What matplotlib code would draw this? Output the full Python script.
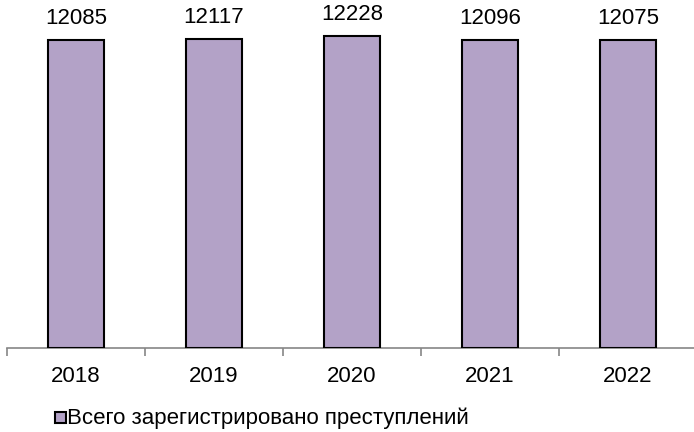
import matplotlib
matplotlib.use("Agg")
import matplotlib.pyplot as plt
from matplotlib.patches import Rectangle

years = ["2018", "2019", "2020", "2021", "2022"]
values = [12085, 12117, 12228, 12096, 12075]
series_name = "Всего зарегистрировано преступлений"

plt.rcParams['font.family'] = ['Liberation Sans', 'DejaVu Sans']

W, H = 694, 432
fig = plt.figure(figsize=(W / 100, H / 100), dpi=100)
# axes: x from 7 to 697 px, y baseline at 348 px from top, top at 0
left_px, right_px = 7, 697
bottom_px = 348
ax = fig.add_axes([left_px / W, (H - bottom_px) / H, (right_px - left_px) / W, bottom_px / H])

x = list(range(len(years)))
color = "#B3A2C7"
bars = ax.bar(x, values, width=0.4, color=color, edgecolor="black", linewidth=1.5, zorder=3)
ax.set_xlim(-0.5, len(years) - 0.5)
ax.set_ylim(0, 13650)

for xi, v in zip(x, values):
    ax.annotate(str(v), (xi, v), xytext=(0, 8), textcoords="offset points",
                ha="center", va="bottom", fontsize=16, color="black",
                annotation_clip=False)

for s in ["left", "right", "top"]:
    ax.spines[s].set_visible(False)
ax.spines["bottom"].set_color("#868686")
ax.spines["bottom"].set_linewidth(1.2)
ax.set_yticks([])
# category boundary ticks
ax.set_xticks([i - 0.5 for i in range(len(years) + 1)])
ax.set_xticklabels([])
ax.tick_params(axis="x", length=6, width=1.2, color="#868686", direction="out")
ax.set_xticks(x, minor=True)
ax.set_xticklabels(years, minor=True, fontsize=16)
ax.tick_params(axis="x", which="minor", length=0, pad=13)

# legend
sq = Rectangle((55 / W, (H - 423) / H), 11 / W, 11 / H, transform=fig.transFigure,
               facecolor=color, edgecolor="black", linewidth=1.5)
fig.patches.append(sq)
fig.text(67 / W, (H - 418) / H, series_name, fontsize=16, ha="left", va="center")

fig.savefig("out.png", dpi=100)
